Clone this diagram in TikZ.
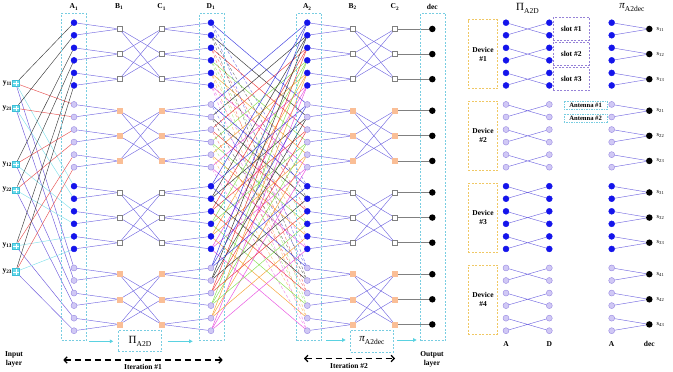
\documentclass[tikz,border=0pt]{standalone}
\usepackage{fontspec}
\setmainfont{Liberation Serif}
\usetikzlibrary{arrows.meta}
\pgfdeclarelayer{bg}
\pgfsetlayers{bg,main}
\definecolor{nblue}{RGB}{20,20,235}
\definecolor{lav}{RGB}{208,200,245}
\definecolor{lavd}{RGB}{150,135,225}
\definecolor{edg}{RGB}{115,105,225}
\definecolor{peach}{RGB}{250,190,150}
\definecolor{boxc}{RGB}{120,205,225}
\definecolor{devc}{RGB}{240,200,100}
\definecolor{slotc}{RGB}{150,130,215}
\definecolor{inc}{RGB}{60,190,215}
\definecolor{cyl}{RGB}{110,220,235}
\definecolor{carr}{RGB}{90,210,225}
\definecolor{kc0}{RGB}{40,40,220}
\definecolor{kc1}{RGB}{30,30,30}
\definecolor{kc2}{RGB}{235,40,40}
\definecolor{kc3}{RGB}{120,220,60}
\definecolor{kc4}{RGB}{245,150,30}
\definecolor{kc5}{RGB}{230,60,220}
\definecolor{ic0}{RGB}{60,60,60}
\definecolor{ic1}{RGB}{230,80,80}
\definecolor{ic2}{RGB}{130,225,235}
\definecolor{ic3}{RGB}{110,90,220}
\newcommand\lblfont{\fontsize{7.5}{9}\selectfont\bfseries}
\newcommand\PiAtwoD{{\fontsize{11}{11}\selectfont Π}\raisebox{-3pt}{\fontsize{7.5}{7.5}\selectfont A2D}}
\newcommand\piAtwodec{{\fontsize{11}{11}\selectfont\itshape π}\raisebox{-3pt}{\fontsize{7.5}{7.5}\selectfont A2dec}}
\begin{document}
\begin{tikzpicture}[x=1pt,y=-1pt,
  bnode/.style={circle,fill=nblue,draw=nblue,minimum size=6pt,inner sep=0pt},
  lnode/.style={circle,fill=lav,draw=lavd,line width=0.4pt,minimum size=6pt,inner sep=0pt},
  wsq/.style={rectangle,fill=white,draw=gray,line width=0.5pt,minimum size=5pt,inner sep=0pt},
  osq/.style={rectangle,fill=peach,draw=peach,line width=0.5pt,minimum size=5pt,inner sep=0pt},
  dnode/.style={circle,fill=black,minimum size=6.5pt,inner sep=0pt},
  inp/.style={rectangle,fill=cyl,draw=inc,line width=0.4pt,minimum size=6.5pt,inner sep=0pt,
    path picture={\draw[white,line width=0.4pt] (path picture bounding box.north) -- (path picture bounding box.south) (path picture bounding box.west) -- (path picture bounding box.east);}},
  cedge/.style={draw=edg,line width=0.45pt},
  gline/.style={draw=gray,line width=0.7pt},
  sline/.style={line width=0.5pt,opacity=0.85},
  dline/.style={line width=0.45pt,dash pattern=on 3pt off 2pt,opacity=0.6},
  cbox/.style={draw=boxc,dash pattern=on 2pt off 1.5pt,line width=0.6pt,inner sep=0pt},
  devbox/.style={draw=devc,dash pattern=on 2pt off 1.5pt,line width=0.6pt,inner sep=0pt,minimum width=29.4pt,minimum height=69pt,align=center,font=\lblfont},
  slotbox/.style={draw=slotc,dash pattern=on 2pt off 1.5pt,line width=0.6pt,inner sep=0pt,minimum width=36pt,minimum height=22.8pt,font=\lblfont},
  antbox/.style={draw=boxc,dash pattern=on 1.5pt off 1pt,line width=0.5pt,inner sep=0.3pt,minimum width=43.3pt,minimum height=8.3pt,font=\fontsize{6.6}{7}\selectfont\bfseries},
  lbl/.style={font=\lblfont,inner sep=0pt},
  carrow/.style={draw=carr,line width=0.9pt,-{Triangle[length=3.5pt,width=3.5pt]}},
  iter/.style={line width=1.3pt,dash pattern=on 6pt off 4pt,{Straight Barb[length=3pt,width=6.5pt]}-{Straight Barb[length=3pt,width=6.5pt]}}
]
\useasboundingbox (0,0) rectangle (673,372);

% dashed column boxes
\node[cbox,minimum width=24.3pt,minimum height=327.4pt] (boxa1) at (73.85,177) {};
\node[cbox,minimum width=24.7pt,minimum height=327.4pt] (boxd1) at (211.65,177) {};
\node[cbox,minimum width=25pt,minimum height=327.4pt] (boxa2) at (309.2,177) {};
\node[cbox,minimum width=25pt,minimum height=327.4pt] (boxdec) at (433.2,177) {};

% circle columns
\foreach \cn/\xx in {a1/74,d1/211,a2/307.3,ra/506,rd/549.3,rp/611.7}{
  \foreach \g in {0,2}{\foreach \k in {0,...,5}{
    \node[bnode] (\cn-\g-\k) at (\xx,{22.7+81.75*\g+12.55*\k}) {};}}
  \foreach \g in {1,3}{\foreach \k in {0,...,5}{
    \node[lnode] (\cn-\g-\k) at (\xx,{22.7+81.75*\g+12.55*\k}) {};}}
}
% square columns
\foreach \cn/\xx in {b1/119.3,c1/161.7,b2/352.7,c2/395}{
  \foreach \g in {0,2}{\foreach \p in {0,1,2}{
    \node[wsq] (\cn-\g-\p) at (\xx,{28.975+81.75*\g+25.1*\p}) {};}}
  \foreach \g in {1,3}{\foreach \p in {0,1,2}{
    \node[osq] (\cn-\g-\p) at (\xx,{28.975+81.75*\g+25.1*\p}) {};}}
}
% decision nodes
\foreach \g [evaluate=\g as \gn using int(\g+1)] in {0,...,3}{
  \foreach \p [evaluate=\p as \pn using int(\p+1)] in {0,1,2}{
    \node[dnode] (dec-\g-\p) at (432.3,{28.975+81.75*\g+25.1*\p}) {};
    \node[dnode] (rdec-\g-\p) at (649.3,{28.975+81.75*\g+25.1*\p}) {};
    \node[anchor=west,inner sep=0pt,font=\fontsize{6.5}{7}\selectfont] (sl-\g-\p) at (656.5,{28.975+81.75*\g+25.1*\p}) {s\textsubscript{\gn\pn}};
  }
  \node[devbox] (dev\g) at (483,{54.1+81.75*\g}) {Device\\\#\gn};
}
% inputs
\foreach \i/\yy/\lab in {0/83.3/11,1/108.3/21,2/164.3/12,3/190/22,4/246/13,5/271.7/23}{
  \node[inp] (in\i) at (15.7,\yy) {};
  \node[lbl,anchor=east] (yl\i) at (12.3,\yy) {y\textsubscript{\lab}};
}
% slot and antenna boxes
\node[slotbox] (slot1) at (571.3,28.975) {slot \#1};
\node[slotbox] (slot2) at (571.3,54.075) {slot \#2};
\node[slotbox] (slot3) at (571.3,79.175) {slot \#3};
\node[antbox] (ant1) at (585.6,105.5) {Antenna \#1};
\node[antbox] (ant2) at (585.6,118) {Antenna \#2};

% column labels
\node[lbl] (la1) at (74,7) {A\textsubscript{1}};
\node[lbl] (lb1) at (119.3,7) {B\textsubscript{1}};
\node[lbl] (lc1) at (161.7,7) {C\textsubscript{1}};
\node[lbl] (ld1) at (211,7) {D\textsubscript{1}};
\node[lbl] (la2) at (307.3,7) {A\textsubscript{2}};
\node[lbl] (lb2) at (352.7,7) {B\textsubscript{2}};
\node[lbl] (lc2) at (395,7) {C\textsubscript{2}};
\node[lbl] (ldec) at (432.3,7) {dec};
\node[inner sep=0pt] (t1) at (527.5,8) {\PiAtwoD};
\node[inner sep=0pt] (t2) at (632,8) {\piAtwodec};
\node[lbl] (ba) at (506,344) {A};
\node[lbl] (bd) at (549.3,344) {D};
\node[lbl] (ba2) at (611.7,344) {A};
\node[lbl] (bdec) at (649.3,344) {dec};

% bottom boxes and arrows
\node[cbox,minimum width=43.4pt,minimum height=21pt] (pibox) at (140,341.2) {\PiAtwoD};
\node[cbox,minimum width=42.6pt,minimum height=22pt] (pi2box) at (372,341) {\piAtwodec};
\coordinate (ca1) at (89.3,341.3); \coordinate (ca2) at (113.3,341.3);
\coordinate (ca3) at (167.7,341.3); \coordinate (ca4) at (192.7,341.3);
\coordinate (ca5) at (326,340); \coordinate (ca6) at (345.7,340);
\coordinate (ca7) at (397.3,340); \coordinate (ca8) at (416.7,340);
\draw[carrow] (ca1) -- (ca2);
\draw[carrow] (ca3) -- (ca4);
\draw[carrow] (ca5) -- (ca6);
\draw[carrow] (ca7) -- (ca8);
\coordinate (it1l) at (63.3,360); \coordinate (it1r) at (222.7,360);
\coordinate (it2l) at (304,358.5); \coordinate (it2r) at (395,358.5);
\draw[iter] (it1l) -- (it1r);
\draw[iter] (it2l) -- (it2r);
\node[lbl] (itt1) at (143,367.3) {Iteration \#1};
\node[lbl] (itt2) at (349,366.3) {Iteration \#2};
\node[lbl,align=center] (inl) at (14,359) {Input\\layer};
\node[lbl,align=center] (outl) at (432,359) {Output\\layer};

% connectors
\begin{pgfonlayer}{bg}
\foreach \g in {0,...,3}{
  \foreach \p/\ka/\kb in {0/0/1,1/2/3,2/4/5}{
    \draw[cedge] (a1-\g-\ka) -- (b1-\g-\p) (a1-\g-\kb) -- (b1-\g-\p);
    \draw[cedge] (c1-\g-\p) -- (d1-\g-\ka) (c1-\g-\p) -- (d1-\g-\kb);
    \draw[cedge] (a2-\g-\ka) -- (b2-\g-\p) (a2-\g-\kb) -- (b2-\g-\p);
    \draw[gline] (c2-\g-\p) -- (dec-\g-\p);
    \draw[cedge] (ra-\g-\ka) -- (rd-\g-\kb) (ra-\g-\kb) -- (rd-\g-\ka);
    \draw[cedge] (rp-\g-\ka) -- (rdec-\g-\p) (rp-\g-\kb) -- (rdec-\g-\p);
  }
  \foreach \i/\j in {0/1,0/2,1/0,1/2,2/0,2/1}{
    \draw[cedge] (b1-\g-\i) -- (c1-\g-\j);
    \draw[cedge] (b2-\g-\i) -- (c2-\g-\j);
  }
}
\foreach \g in {0,...,3}{\foreach \h in {0,...,3}{\foreach \k in {0,...,5}{
  \ifnum\g=\h\relax\else
    \ifnum\h>\numexpr\g+1\relax
      \draw[dline,draw=kc\k] (d1-\g-\k) -- (a2-\h-\k);
    \else
      \draw[sline,draw=kc\k] (d1-\g-\k) -- (a2-\h-\k);
    \fi
  \fi}}}
\foreach \i in {0,...,5}{\foreach \g in {0,...,3}{
  \draw[draw=ic\g,line width=0.45pt] (in\i) -- (a1-\g-\i);}}
\end{pgfonlayer}
\end{tikzpicture}
\end{document}
